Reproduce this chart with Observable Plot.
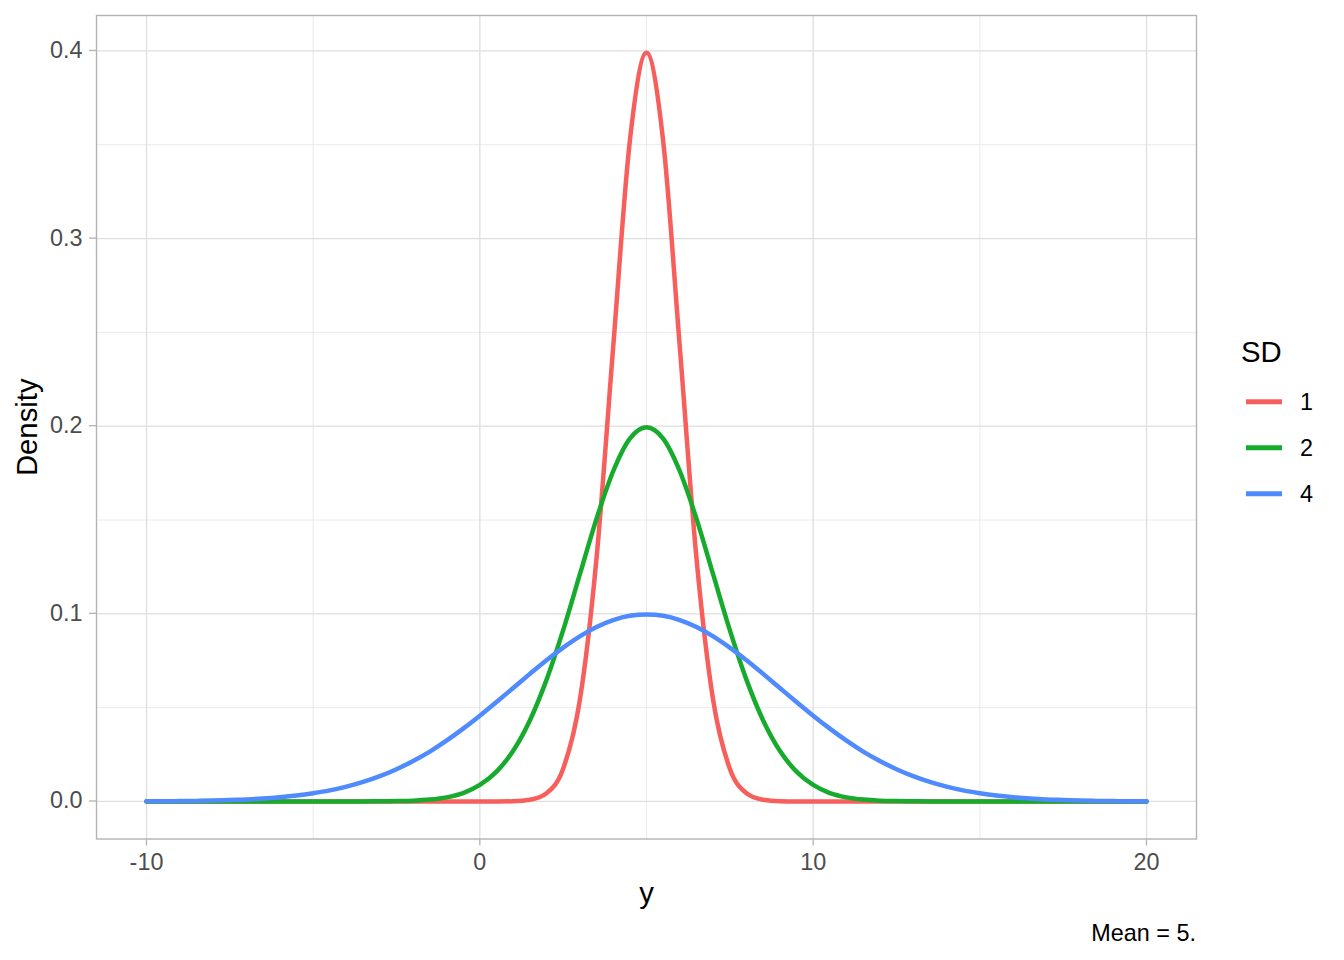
<!DOCTYPE html>
<html><head><meta charset="utf-8">
<script src="https://cdn.jsdelivr.net/npm/d3@7"></script>
<script src="https://cdn.jsdelivr.net/npm/@observablehq/plot@0.6"></script>
<style>
body{margin:0;background:#fff;font-family:"Liberation Sans",Arial,sans-serif;}
#wrap{position:relative;width:1344px;height:960px;overflow:hidden;}
#wrap > svg{position:absolute;left:0;top:0;}
</style></head><body><div id="wrap"></div>
<script>
// x positions (y variable) of the drawn density curves
const yValues = [-10,-9.5,-9,-8.5,-8,-7.5,-7,-6.5,-6,-5.5,-5,-4.5,-4,-3.5,-3,-2.5,-2,-1.5,-1,-0.5,
  0,0.5,1,1.5,2,2.5,3,3.5,4,4.5,5,5.5,6,6.5,7,7.5,8,8.5,9,9.5,
  10,10.5,11,11.5,12,12.5,13,13.5,14,14.5,15,15.5,16,16.5,17,17.5,18,18.5,19,19.5,20];
// density, SD = 1
const density1 = [0,0,0,0,0,0,0,0,0,0,0,0,0,0,0,0,0,0,0,0,
  0,0,0.0001,0.0009,0.0044,0.0175,0.054,0.1295,0.242,0.352,0.399,0.352,0.242,0.1295,0.054,0.0175,0.0044,0.0009,0.0001,0,
  0,0,0,0,0,0,0,0,0,0,0,0,0,0,0,0,0,0,0,0,0];
// SD = 2
const density2 = [0,0,0,0,0,0,0,0,0,0,0,0,0,0,0.0001,0.0002,0.0004,0.001,0.0022,0.0045,
  0.0088,0.0159,0.027,0.0432,0.0648,0.0913,0.121,0.1506,0.176,0.1934,0.1995,0.1934,0.176,0.1506,0.121,0.0913,0.0648,0.0432,0.027,0.0159,
  0.0088,0.0045,0.0022,0.001,0.0004,0.0002,0.0001,0,0,0,0,0,0,0,0,0,0,0,0,0,0];
// SD = 4
const density4 = [0.0001,0.0001,0.0002,0.0003,0.0005,0.0008,0.0011,0.0016,0.0023,0.0032,0.0044,0.0059,0.0079,0.0104,0.0135,0.0172,0.0216,0.0266,0.0324,0.0388,
  0.0457,0.053,0.0605,0.068,0.0753,0.082,0.088,0.093,0.0967,0.099,0.0997,0.099,0.0967,0.093,0.088,0.082,0.0753,0.068,0.0605,0.053,
  0.0457,0.0388,0.0324,0.0266,0.0216,0.0172,0.0135,0.0104,0.0079,0.0059,0.0044,0.0032,0.0023,0.0016,0.0011,0.0008,0.0005,0.0003,0.0002,0.0001,0.0001];
const sdLevels = ["1","2","4"];
const sdColors = ["#F65F5C","#17AB2E","#4F8BFF"];
const xTicks = [-10,0,10,20];
const xMinor = [-5,5,15];
const yTicks = [0,0.1,0.2,0.3,0.4];
const yMinor = [0.05,0.15,0.25,0.35];
const xTitle = "y";
const yTitle = "Density";
const legendTitle = "SD";
const captionText = "Mean = 5.";

const rows = [];
[density1, density2, density4].forEach((arr, i) =>
  arr.forEach((d, j) => rows.push({y: yValues[j], density: d, sd: sdLevels[i]})));

const FONT = "Liberation Sans, Arial, Helvetica, sans-serif";
const SMALL = 23.4, LARGE = 29.3;
const plot = Plot.plot({
  width: 1344, height: 960,
  marginLeft: 96, marginRight: 148, marginTop: 15, marginBottom: 121.5,
  x: {domain: [-11.5, 21.5]},
  y: {domain: [-0.02, 0.4189]},
  color: {domain: sdLevels, range: sdColors},
  style: {fontFamily: FONT, background: "#fff", overflow: "visible"},
  marks: [
    Plot.ruleX(xMinor, {stroke: "#E6E6E6", strokeWidth: 0.8}),
    Plot.ruleY(yMinor, {stroke: "#E6E6E6", strokeWidth: 0.8}),
    Plot.ruleX(xTicks, {stroke: "#DEDEDE", strokeWidth: 1.3}),
    Plot.ruleY(yTicks, {stroke: "#DEDEDE", strokeWidth: 1.3}),
    Plot.lineY(rows, {x: "y", y: "density", stroke: "sd", z: "sd", strokeWidth: 4.5, curve: "monotone-x"}),
    Plot.frame({stroke: "#B3B3B3", strokeWidth: 1.4}),
    Plot.axisX(xTicks, {tickSize: 7, tickPadding: 7, fontSize: SMALL, color: "#4D4D4D", stroke: "#B3B3B3", strokeWidth: 1.3, label: null, tickFormat: d => String(d)}),
    Plot.axisY(yTicks, {tickSize: 7, tickPadding: 7, fontSize: SMALL, color: "#4D4D4D", stroke: "#B3B3B3", strokeWidth: 1.3, label: null, tickFormat: d3.format(".1f"), dy: -0.5}),
    Plot.text([xTitle], {frameAnchor: "bottom", textAnchor: "middle", lineAnchor: "bottom", dy: 63.5, fontSize: LARGE, fill: "#000"}),
    Plot.text([yTitle], {frameAnchor: "left", textAnchor: "middle", lineAnchor: "bottom", rotate: -90, dx: -60, fontSize: LARGE, fill: "#000"})
  ]
});
const wrap = document.getElementById("wrap");
wrap.appendChild(plot);

// legend and caption overlay
const ov = d3.select(wrap).append("svg")
  .attr("width", 1344).attr("height", 960)
  .style("font-family", FONT).style("pointer-events", "none");
ov.append("text").attr("x", 1241).attr("y", 362).attr("font-size", LARGE).text(legendTitle);
sdLevels.forEach((lv, i) => {
  const cy = 401.7 + 46 * i;
  ov.append("line").attr("x1", 1246).attr("x2", 1282).attr("y1", cy).attr("y2", cy)
    .attr("stroke", sdColors[i]).attr("stroke-width", 5);
  ov.append("text").attr("x", 1300).attr("y", cy + 8.4).attr("font-size", SMALL).text(lv);
});
ov.append("text").attr("x", 1196).attr("y", 941).attr("text-anchor", "end").attr("font-size", SMALL).text(captionText);
</script></body></html>
